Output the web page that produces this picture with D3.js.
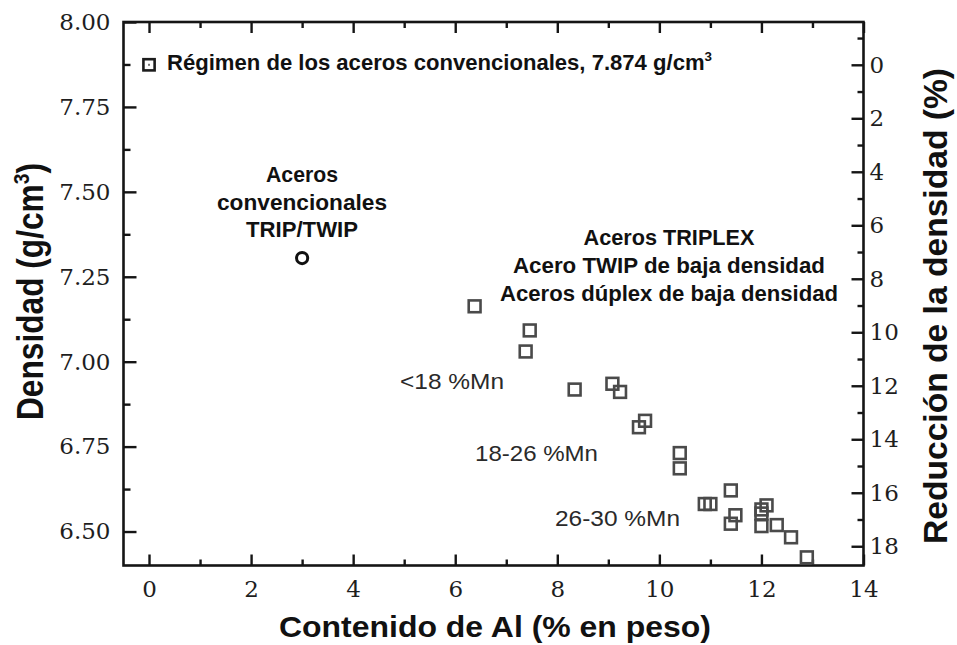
<!DOCTYPE html>
<html>
<head>
<meta charset="utf-8">
<script src="https://cdn.jsdelivr.net/npm/d3@7/dist/d3.min.js"></script>
<style>
  body { margin: 0; background: #fff; }
  svg { display: block; }
</style>
</head>
<body>
<svg id="chart" width="957" height="645"></svg>
<script>
// Low-density steels: aluminium content (wt.%) vs. density (g/cm3)
const alContent = [6.38, 7.46, 7.38, 8.34, 9.08, 9.23, 9.72, 9.60, 10.40, 10.40,
                   10.89, 11.00, 11.40, 11.49, 11.40, 12.00, 12.00, 12.10, 12.00, 12.30, 12.58, 12.89];
const density   = [7.163, 7.092, 7.030, 6.918, 6.935, 6.911, 6.826, 6.807, 6.731, 6.686,
                   6.581, 6.581, 6.621, 6.548, 6.523, 6.553, 6.565, 6.577, 6.516, 6.519, 6.483, 6.424];

// Conventional TRIP/TWIP steel
const convAl = [3.0];
const convDensity = [7.305];

// Conventional steel reference (pure iron density)
const ironAl = [0];
const ironDensity = 7.874;

// Axis ticks
const xMajor = [0, 2, 4, 6, 8, 10, 12, 14];
const xMinor = [1, 3, 5, 7, 9, 11, 13];
const yMajor = [6.50, 6.75, 7.00, 7.25, 7.50, 7.75, 8.00];
const yMinor = [6.625, 6.875, 7.125, 7.375, 7.625, 7.875];
const rMajor = [0, 2, 4, 6, 8, 10, 12, 14, 16, 18];
const rMinor = [-1, 1, 3, 5, 7, 9, 11, 13, 15, 17];

// Text
const legendText = "Régimen de los aceros convencionales, 7.874 g/cm";
const convLines = ["Aceros", "convencionales", "TRIP/TWIP"];
const lowDensityLines = ["Aceros TRIPLEX", "Acero TWIP de baja densidad", "Aceros dúplex de baja densidad"];
const mnRanges = ["<18 %Mn", "18-26 %Mn", "26-30 %Mn"];

const svg = d3.select("#chart");
const plot = { left: 123.5, right: 863.5, top: 22, bottom: 565.5 };

const x = d3.scaleLinear().domain([-0.5, 14]).range([plot.left, plot.right]);
const y = d3.scaleLinear().domain([6.40, 8.00]).range([plot.bottom, plot.top]);
// Density reduction (%) relative to iron, on the right-hand axis
const toReduction = d => 100 * (1 - d / ironDensity);
const yR = d3.scaleLinear().domain([toReduction(8.00), toReduction(6.40)]).range([plot.top, plot.bottom]);

const ink = "#151515";
const serif = "'DejaVu Serif', serif";
const sans = "'Liberation Sans', Arial, sans-serif";

function styleAxis(g, withLabels) {
  g.select(".domain").remove();
  g.selectAll(".tick line").attr("stroke", ink).attr("stroke-width", 2.4);
  g.selectAll(".tick text")
    .attr("fill", "#1e1e1e")
    .style("font-family", serif)
    .style("font-size", "23px");
  if (!withLabels) g.selectAll(".tick text").remove();
}

// bottom axis
svg.append("g").attr("transform", `translate(0,${plot.bottom})`)
  .call(d3.axisBottom(x).tickValues(xMajor).tickSizeInner(-11).tickSizeOuter(0).tickPadding(15).tickFormat(d3.format("d")))
  .call(g => styleAxis(g, true));
svg.append("g").attr("transform", `translate(0,${plot.bottom})`)
  .call(d3.axisBottom(x).tickValues(xMinor).tickSizeInner(-6).tickSizeOuter(0))
  .call(g => styleAxis(g, false));

// top axis (ticks only)
svg.append("g").attr("transform", `translate(0,${plot.top})`)
  .call(d3.axisTop(x).tickValues(xMajor).tickSizeInner(-11).tickSizeOuter(0))
  .call(g => styleAxis(g, false));
svg.append("g").attr("transform", `translate(0,${plot.top})`)
  .call(d3.axisTop(x).tickValues(xMinor).tickSizeInner(-6).tickSizeOuter(0))
  .call(g => styleAxis(g, false));

// left axis: density
svg.append("g").attr("transform", `translate(${plot.left},0)`)
  .call(d3.axisLeft(y).tickValues(yMajor).tickSizeInner(-13).tickSizeOuter(0).tickPadding(13).tickFormat(d3.format(".2f")))
  .call(g => styleAxis(g, true));
svg.append("g").attr("transform", `translate(${plot.left},0)`)
  .call(d3.axisLeft(y).tickValues(yMinor).tickSizeInner(-7).tickSizeOuter(0))
  .call(g => styleAxis(g, false));

// right axis: density reduction
svg.append("g").attr("transform", `translate(${plot.right},0)`)
  .call(d3.axisRight(yR).tickValues(rMajor).tickSizeInner(-12).tickSizeOuter(0).tickPadding(6).tickFormat(d3.format("d")))
  .call(g => styleAxis(g, true));
svg.append("g").attr("transform", `translate(${plot.right},0)`)
  .call(d3.axisRight(yR).tickValues(rMinor).tickSizeInner(-6).tickSizeOuter(0))
  .call(g => styleAxis(g, false));

// frame
svg.append("rect")
  .attr("x", plot.left).attr("y", plot.top)
  .attr("width", plot.right - plot.left).attr("height", plot.bottom - plot.top)
  .attr("fill", "none").attr("stroke", ink).attr("stroke-width", 2.6);

// low-density steels
const pts = alContent.map((a, i) => ({ a, d: density[i] }));
svg.append("g").selectAll("rect").data(pts).join("rect")
  .attr("x", p => x(p.a) - 5.9).attr("y", p => y(p.d) - 5.9)
  .attr("width", 11.8).attr("height", 11.8)
  .attr("fill", "none").attr("stroke", "#4a4a4a").attr("stroke-width", 2.6);

// conventional TRIP/TWIP steel
svg.append("g").selectAll("circle").data(convAl).join("circle")
  .attr("cx", (a) => x(a)).attr("cy", (a, i) => y(convDensity[i]))
  .attr("r", 5.6).attr("fill", "none").attr("stroke", "#111").attr("stroke-width", 3);

// conventional steel reference marker
const ironG = svg.append("g").selectAll("g").data(ironAl).join("g")
  .attr("transform", a => `translate(${x(a)},${y(ironDensity)})`);
ironG.append("rect").attr("x", -5.6).attr("y", -5.6).attr("width", 11.2).attr("height", 11.2)
  .attr("fill", "none").attr("stroke", "#1c1c1c").attr("stroke-width", 2.6);
ironG.append("rect").attr("x", -1).attr("y", -1).attr("width", 2).attr("height", 2).attr("fill", "#777");

// horizontal text helper: fixed size, fitted to the given width
function addText(tx, ty, str, size, weight, width, anchor) {
  return svg.append("text")
    .attr("x", tx).attr("y", ty)
    .attr("text-anchor", anchor || "start")
    .attr("textLength", width).attr("lengthAdjust", "spacingAndGlyphs")
    .style("font-family", sans).style("font-size", size + "px").style("font-weight", weight)
    .attr("fill", "#111")
    .text(str);
}

// legend line with superscript
const lg = svg.append("text")
  .attr("x", 167).attr("y", 70)
  .attr("textLength", 545).attr("lengthAdjust", "spacingAndGlyphs")
  .style("font-family", sans).style("font-size", "21.5px").style("font-weight", "bold")
  .attr("fill", "#111");
lg.append("tspan").text(legendText);
lg.append("tspan").attr("dy", -9).style("font-size", "13px").text("3");

// annotation blocks
const convWidths = [72, 170, 112];
const convBase = [182, 210, 237];
convLines.forEach((s, i) => addText(302, convBase[i], s, 22.5, "bold", convWidths[i], "middle"));

const ldWidths = [171, 312, 338];
const ldBase = [245, 273, 301];
lowDensityLines.forEach((s, i) => addText(669, ldBase[i], s, 22.5, "bold", ldWidths[i], "middle"));

// Mn ranges
const mnX = [400, 475, 555];
const mnY = [389, 461, 526];
const mnW = [104, 123, 125];
mnRanges.forEach((s, i) => addText(mnX[i], mnY[i], s, 21.5, "normal", mnW[i]).attr("fill", "#2a2a2a"));

// axis titles
addText(279, 637, "Contenido de Al (% en peso)", 30, "bold", 432);

const yTitle = svg.append("text")
  .attr("transform", "translate(43,291.5) scale(1.2,1) rotate(-90)")
  .attr("text-anchor", "middle")
  .attr("textLength", 257).attr("lengthAdjust", "spacingAndGlyphs")
  .style("font-family", sans).style("font-size", "31px").style("font-weight", "bold")
  .attr("fill", "#111");
yTitle.append("tspan").text("Densidad (g/cm");
yTitle.append("tspan").attr("dy", -12).style("font-size", "19px").text("3");
yTitle.append("tspan").attr("dy", 12).text(")");

svg.append("text")
  .attr("transform", "translate(947,306) scale(1.1,1) rotate(-90)")
  .attr("text-anchor", "middle")
  .attr("textLength", 476).attr("lengthAdjust", "spacingAndGlyphs")
  .style("font-family", sans).style("font-size", "30px").style("font-weight", "bold")
  .attr("fill", "#111")
  .text("Reducción de la densidad (%)");
</script>
</body>
</html>
